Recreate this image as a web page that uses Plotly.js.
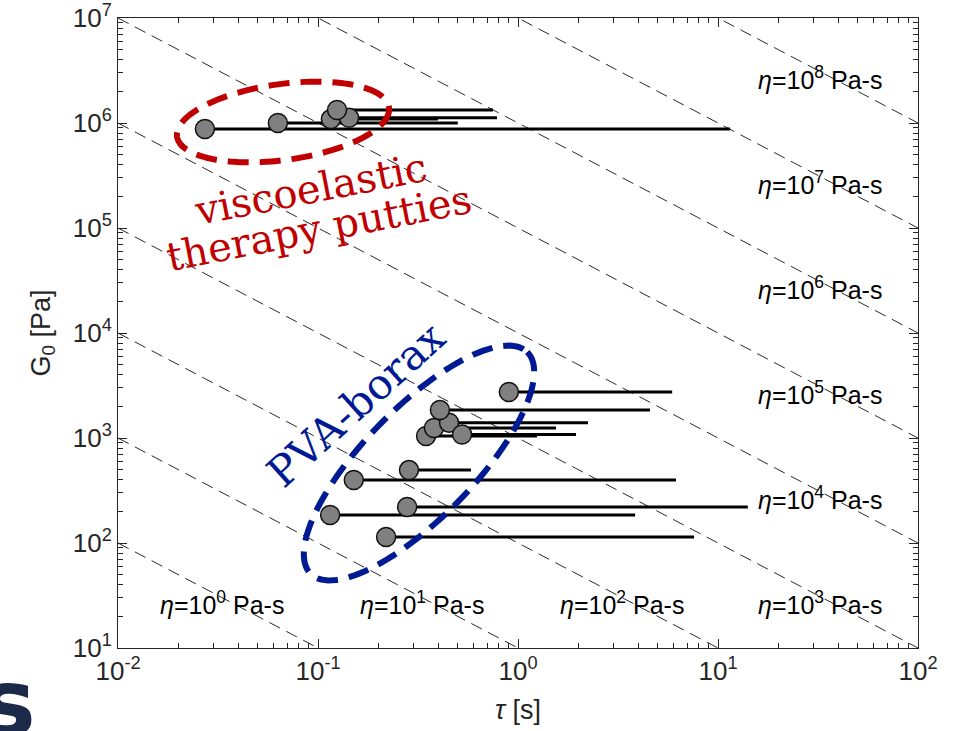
<!DOCTYPE html>
<html>
<head>
<meta charset="utf-8">
<script src="https://cdn.plot.ly/plotly-3.0.1.min.js"></script>
<style>html,body{margin:0;padding:0;background:#fff;}#chart{width:954px;height:731px;}</style>
</head>
<body>
<div id="chart"></div>
<script>
// ---- Data ----
const tauPutty    = [0.0272, 0.063, 0.116, 0.143, 0.1245];
const tauPuttyMax = [11.5, 0.50, 0.398, 0.785, 0.75];
const g0Putty     = [8.77e5, 1.0e6, 1.09e6, 1.12e6, 1.33e6];

const tauPVA    = [0.347, 0.380, 0.452, 0.525, 0.407, 0.90, 0.285, 0.151, 0.279, 0.115, 0.219];
const tauPVAMax = [1.245, 1.55, 2.24, 1.95, 4.57, 5.9, 0.582, 6.17, 14.1, 3.85, 7.59];
const g0PVA     = [1045, 1245, 1400, 1080, 1848, 2740, 495, 398, 220, 185, 114];

const etaValues = [1e0, 1e1, 1e2, 1e3, 1e4, 1e5, 1e6, 1e7, 1e8];
const etaExp    = ['0','1','2','3','4','5','6','7','8'];
const etaLabelX = [-1.8, -0.8, 0.2, 1.19, 1.19, 1.19, 1.19, 1.19, 1.19];   // log10 tau
const etaLabelY = [1.43, 1.43, 1.43, 1.43, 2.43, 3.43, 4.43, 5.43, 6.43];  // log10 G

const xTickVals = [1e-2, 1e-1, 1e0, 1e1, 1e2];
const xTickText = ['10<sup>-2</sup>','10<sup>-1</sup>','10<sup>0</sup>','10<sup>1</sup>','10<sup>2</sup>'];
const yTickVals = [1e1, 1e2, 1e3, 1e4, 1e5, 1e6, 1e7];
const yTickText = ['10<sup>1</sup>','10<sup>2</sup>','10<sup>3</sup>','10<sup>4</sup>','10<sup>5</sup>','10<sup>6</sup>','10<sup>7</sup>'];
const minorMult = [2, 3, 4, 5, 6, 7, 8, 9];

// ---- Layout geometry ----
const W = 954, H = 731;
const M = {l: 118, r: 36, t: 18, b: 83};
const PW = W - M.l - M.r, PH = H - M.t - M.b;
const axisColor = '#262626';
const FONT = 'Liberation Sans, Arial, sans-serif';

function minorVals(majors) {
  const out = [];
  majors.slice(0, -1).forEach(d => minorMult.forEach(k => out.push(d * k)));
  return out;
}
function ellipsePath(cx, cy, a, b, angDeg) {
  const th = angDeg * Math.PI / 180;
  let s = '';
  for (let i = 0; i <= 120; i++) {
    const t = 2 * Math.PI * i / 120;
    const px = cx + a * Math.cos(t) * Math.cos(th) - b * Math.sin(t) * Math.sin(th);
    const py = cy + a * Math.cos(t) * Math.sin(th) + b * Math.sin(t) * Math.cos(th);
    const u = (px - M.l) / PW, v = (H - M.b - py) / PH;
    s += (i === 0 ? 'M' : 'L') + u.toFixed(5) + ',' + v.toFixed(5) + ' ';
  }
  return s + 'Z';
}
function paperX(px) { return (px - M.l) / PW; }
function paperY(py) { return (H - M.b - py) / PH; }

const traces = [];
etaValues.forEach(eta => {
  traces.push({
    x: [1e-2, 1e2], y: [eta / 1e-2, eta / 1e2],
    mode: 'lines', type: 'scatter', hoverinfo: 'skip', showlegend: false,
    line: {color: '#111', width: 0.9, dash: '12px,7px'}
  });
});
function dataTrace(tau, tauMax, g0) {
  return {
    x: tau, y: g0, mode: 'markers', type: 'scatter', showlegend: false,
    marker: {size: 19, color: '#808080', line: {color: '#111', width: 1.5}},
    error_x: {type: 'data', symmetric: false,
      array: tau.map((t, i) => tauMax[i] - t), arrayminus: tau.map(() => 0),
      color: '#000', thickness: 3, width: 0}
  };
}
traces.push(dataTrace(tauPutty, tauPuttyMax, g0Putty));
traces.push(dataTrace(tauPVA, tauPVAMax, g0PVA));
// invisible trace that carries the minor-tick overlay axes
traces.push({x: [1], y: [1e3], xaxis: 'x2', yaxis: 'y2', mode: 'markers',
  marker: {opacity: 0}, hoverinfo: 'skip', showlegend: false});

const annotations = [];
etaValues.forEach((eta, i) => {
  annotations.push({
    xref: 'x', yref: 'y', x: etaLabelX[i], y: etaLabelY[i],
    xanchor: 'left', yanchor: 'middle', showarrow: false,
    text: '<i>η</i>=10<sup>' + etaExp[i] + '</sup> Pa-s',
    font: {family: FONT, size: 25, color: '#000'}
  });
});
const red = '#c00000', blue = '#001a94';
const SERIF = 'DejaVu Serif, serif';
annotations.push({xref: 'paper', yref: 'paper', x: paperX(311), y: paperY(189), showarrow: false,
  xanchor: 'center', yanchor: 'middle',
  text: 'viscoelastic', textangle: -11, font: {family: SERIF, size: 40, color: red}});
annotations.push({xref: 'paper', yref: 'paper', x: paperX(319), y: paperY(228), showarrow: false,
  xanchor: 'center', yanchor: 'middle',
  text: 'therapy putties', textangle: -11, font: {family: SERIF, size: 40, color: red}});
annotations.push({xref: 'paper', yref: 'paper', x: paperX(356), y: paperY(404), showarrow: false,
  xanchor: 'center', yanchor: 'middle',
  text: 'PVA-borax', textangle: -42, font: {family: SERIF, size: 42, color: blue}});
annotations.push({xref: 'paper', yref: 'paper', x: paperX(9), y: paperY(704), showarrow: false,
  xanchor: 'center', yanchor: 'middle',
  text: '<b>s</b>', font: {family: 'DejaVu Sans, sans-serif', size: 92, color: '#1c2a4a'}});

const shapes = [
  {type: 'path', xref: 'paper', yref: 'paper', path: ellipsePath(283, 122, 107, 38, -7.8),
   line: {color: red, width: 6, dash: '21px,11px'}},
  {type: 'path', xref: 'paper', yref: 'paper', path: ellipsePath(419, 463, 155, 55, -45.7),
   line: {color: blue, width: 6, dash: '21px,11px'}}
];

const axisCommon = {
  type: 'log', showgrid: false, zeroline: false, showline: true, mirror: 'ticks',
  linecolor: axisColor, linewidth: 1, ticks: 'inside', ticklen: 9, tickcolor: axisColor,
  tickfont: {family: FONT, size: 26, color: axisColor}
};
const minorAxis = {
  type: 'log', showgrid: false, zeroline: false, showline: true, mirror: 'ticks',
  linecolor: axisColor, linewidth: 1, ticks: 'inside', ticklen: 5, tickcolor: axisColor,
  showticklabels: false, tickmode: 'array'
};

const layout = {
  width: W, height: H, margin: M,
  paper_bgcolor: '#fff', plot_bgcolor: '#fff', showlegend: false,
  xaxis: Object.assign({}, axisCommon, {
    range: [-2, 2], tickmode: 'array', tickvals: xTickVals, ticktext: xTickText,
    title: {text: '<i>τ</i> [s]', font: {family: FONT, size: 27, color: axisColor}, standoff: 14}
  }),
  yaxis: Object.assign({}, axisCommon, {
    range: [1, 7], tickmode: 'array', tickvals: yTickVals, ticktext: yTickText,
    title: {text: 'G<sub>0</sub> [Pa]', font: {family: FONT, size: 27, color: axisColor}, standoff: 14}
  }),
  xaxis2: Object.assign({}, minorAxis, {overlaying: 'x', side: 'bottom', range: [-2, 2],
    tickvals: minorVals(xTickVals)}),
  yaxis2: Object.assign({}, minorAxis, {overlaying: 'y', side: 'left', range: [1, 7],
    tickvals: minorVals(yTickVals)}),
  shapes: shapes, annotations: annotations
};

Plotly.newPlot('chart', traces, layout, {staticPlot: true, displayModeBar: false});
</script>
</body>
</html>
